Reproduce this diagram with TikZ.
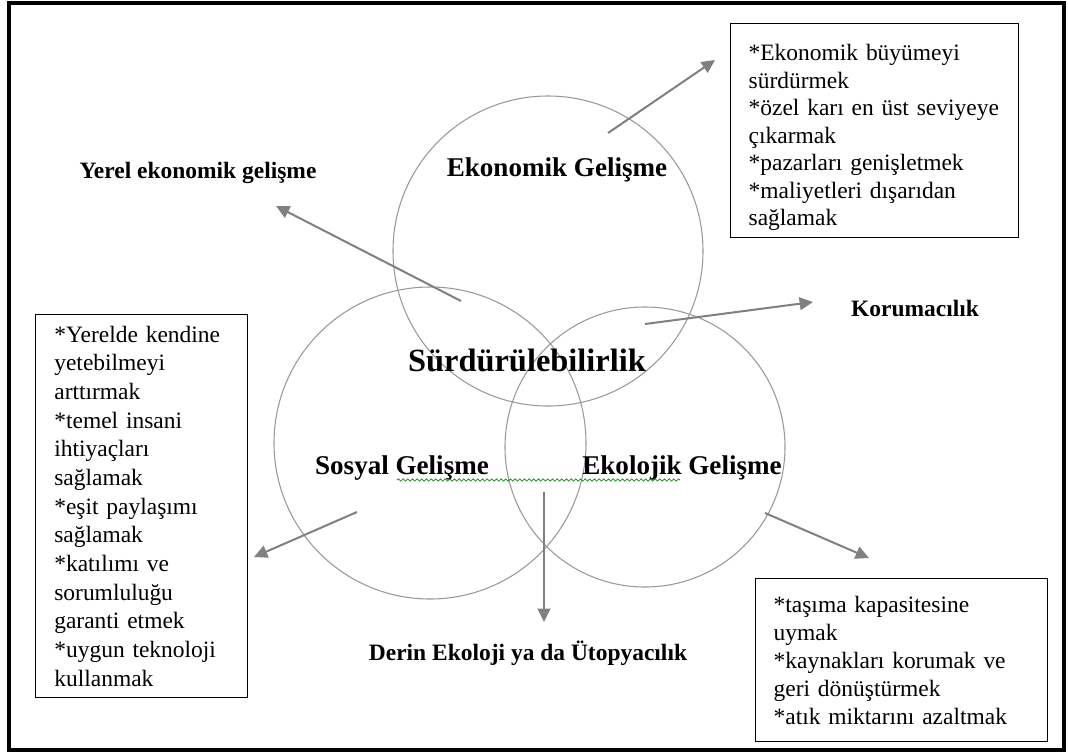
\documentclass[tikz,border=0pt]{standalone}
\usepackage{fontspec}
\setmainfont{Liberation Serif}
\usetikzlibrary{arrows.meta,decorations.pathmorphing}

\tikzset{
	ring/.style={draw=gray!80, line width=0.8pt},
	flow/.style={draw=gray, line width=1.5pt, -{Triangle[length=10pt,width=9.5pt]}},
	tag/.style={font=\fontsize{17.6}{20.4}\selectfont\bfseries, inner sep=0pt},
	head/.style={font=\fontsize{20.3}{24}\selectfont\bfseries, inner sep=0pt},
	listbox/.style={draw, line width=1pt, anchor=north west, align=left, inner ysep=0pt},
	spell/.style={draw=green!55!black, line width=0.5pt, decorate, decoration={snake, amplitude=0.9pt, segment length=3.5pt}},
}

\begin{document}
\begin{tikzpicture}[x=0.75pt, y=-0.75pt]
		\useasboundingbox (0,0) rectangle (1068,754);
		\draw[line width=2.6pt] (9,3) rectangle (1064,750);
		% the three circles
		\coordinate (EkoC) at (548,251);
		\coordinate (SosC) at (430,443);
		\coordinate (EkolC) at (645,447);
		\draw[ring] (EkoC) circle[radius=116.25pt];
		\draw[ring] (SosC) circle[radius=117pt];
		\draw[ring] (EkolC) circle[radius=105pt];
		% labels
		\node[head] (Eko) at (557,170) {Ekonomik Gelişme};
		\node[head] (Sos) at (402,468) {Sosyal Gelişme};
		\node[head] (Ekol) at (682,468) {Ekolojik Gelişme};
		\node[font=\fontsize{24.3}{28}\selectfont\bfseries, inner sep=0pt] (Surd) at (527,360) {Sürdürülebilirlik};
		\node[tag] (Yerel) at (198,173) {Yerel ekonomik gelişme};
		\node[tag] (Koruma) at (915,308) {Korumacılık};
		\node[tag] (Derin) at (528,653) {Derin Ekoloji ya da Ütopyacılık};
		\draw[spell] (397,480) -- (680,480);
		% boxes
		\node[listbox, font=\fontsize{17.6}{20.6}\selectfont, minimum width=216pt, minimum height=160.5pt, text width=189pt, inner xsep=13.5pt] (EkoBox) at (730,23)
			{\rule{0pt}{22.5pt}{*}Ekonomik büyümeyi\\ sürdürmek\\ {*}özel karı en üst seviyeye\\ çıkarmak\\ {*}pazarları genişletmek\\ {*}maliyetleri dışarıdan\\ sağlamak};
		\node[listbox, font=\fontsize{17.6}{21.5}\selectfont, minimum width=159pt, minimum height=287.25pt, text width=131pt, inner xsep=14pt] (SosBox) at (35,314)
			{{*}Yerelde kendine\\ yetebilmeyi\\ arttırmak\\ {*}temel insani\\ ihtiyaçları\\ sağlamak\\ {*}eşit paylaşımı\\ sağlamak\\ {*}katılımı ve\\ sorumluluğu\\ garanti etmek\\ {*}uygun teknoloji\\ kullanmak};
		\node[listbox, font=\fontsize{17.6}{21}\selectfont, minimum width=219pt, minimum height=122.25pt, text width=192pt, inner xsep=13.5pt] (EkolBox) at (755,578)
			{{*}taşıma kapasitesine\\ uymak\\ {*}kaynakları korumak ve\\ geri dönüştürmek\\ {*}atık miktarını azaltmak};
		% arrows
		\coordinate (a1) at (608,133); \coordinate (b1) at (715,60);
		\coordinate (a2) at (461,301); \coordinate (b2) at (276,206);
		\coordinate (a3) at (645,324); \coordinate (b3) at (813,302);
		\coordinate (a4) at (357,512); \coordinate (b4) at (254,557);
		\coordinate (a5) at (544,492); \coordinate (b5) at (544,622);
		\coordinate (a6) at (765,513); \coordinate (b6) at (869,558);
		\draw[flow] (a1) -- (b1);
		\draw[flow] (a2) -- (b2);
		\draw[flow] (a3) -- (b3);
		\draw[flow] (a4) -- (b4);
		\draw[flow] (a5) -- (b5);
		\draw[flow] (a6) -- (b6);
\end{tikzpicture}
\end{document}
